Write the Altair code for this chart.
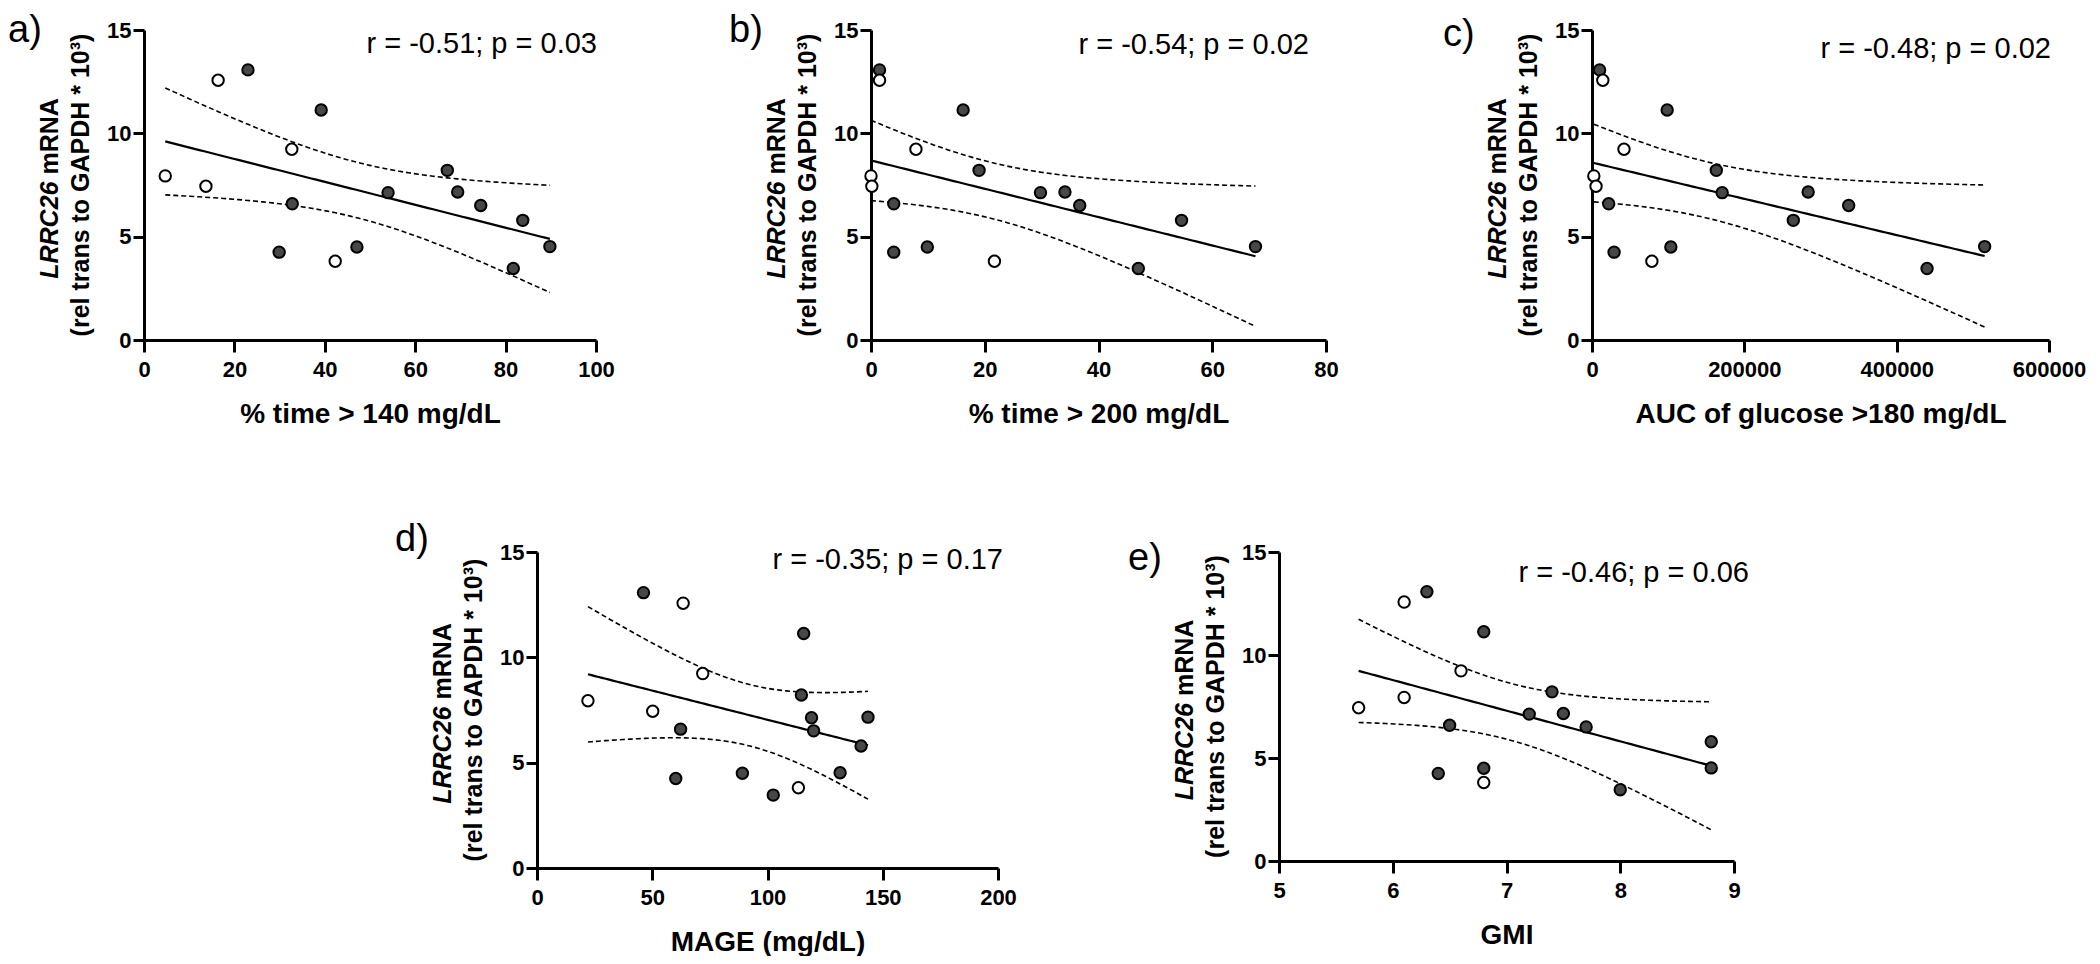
import altair as alt
import numpy as np
import pandas as pd

FONT = "Liberation Sans"

# 12 filled (dark) subjects first, then 5 open subjects
GROUP = ["filled"] * 12 + ["open"] * 5
LRRC26 = [13.07, 11.13, 8.21, 7.16, 7.13, 6.51, 6.59, 5.79, 4.52, 4.50, 4.25, 3.46,
          7.94, 7.44, 12.57, 9.23, 3.81]

TIME140 = [23.0, 39.2, 67.1, 69.4, 54.0, 74.5, 32.8, 83.8, 89.8, 47.1, 29.9, 81.7,
           4.7, 13.7, 16.4, 32.7, 42.3]
TIME200 = [1.5, 16.2, 19.0, 34.1, 29.8, 36.7, 4.0, 54.6, 67.6, 9.9, 4.0, 47.0,
           0.0, 0.15, 1.5, 7.9, 21.7]
AUC180 = [10000, 98700, 163200, 283800, 170900, 337000, 21900, 264300, 515500, 103500, 29000, 439900,
          2400, 5300, 14200, 42000, 78600]
MAGE = [46.2, 115.7, 114.7, 143.6, 119.1, 120.0, 62.3, 140.6, 131.5, 89.1, 60.2, 102.5,
        22.1, 50.2, 63.4, 71.9, 113.4]
GMI = [6.30, 6.80, 7.40, 7.50, 7.20, 7.70, 6.50, 8.80, 8.80, 6.80, 6.40, 8.00,
       6.10, 5.70, 6.10, 6.60, 6.80]

X_TITLES = ["% time > 140 mg/dL", "% time > 200 mg/dL", "AUC of glucose >180 mg/dL",
            "MAGE (mg/dL)", "GMI"]
R_TEXTS = ["r = -0.51; p = 0.03", "r = -0.54; p = 0.02", "r = -0.48; p = 0.02",
           "r = -0.35; p = 0.17", "r = -0.46; p = 0.06"]
LABELS = ["a)", "b)", "c)", "d)", "e)"]
X_DOMAINS = [[0, 100], [0, 80], [0, 600000], [0, 200], [5, 9]]
X_TICKS = [[0, 20, 40, 60, 80, 100], [0, 20, 40, 60, 80],
           [0, 200000, 400000, 600000], [0, 50, 100, 150, 200], [5, 6, 7, 8, 9]]
Y_TICKS = [0, 5, 10, 15]
Y_LINE1A = "LRRC26"
Y_LINE1B = "mRNA"
Y_LINE2 = "(rel trans to GAPDH * 10\u00b3)"

T975 = 2.131  # t(0.975, df=15)

AXIS = dict(grid=False, domainColor="black", domainWidth=3, tickColor="black", tickWidth=3,
            labelFont=FONT, labelFontWeight="bold", labelFontSize=22, labelColor="black",
            labelOverlap=False, labelFlush=False, labelBound=False)


def txt(t, x, y, **kw):
    return alt.Chart(pd.DataFrame({"t": [t]})).mark_text(**kw).encode(
        text="t:N", x=alt.value(x), y=alt.value(y))


def panel(xs, i, W, H, lab_xy, r_xy):
    x = np.asarray(xs, float)
    y = np.asarray(LRRC26, float)
    n = len(x)
    xm, ym = x.mean(), y.mean()
    sxx = ((x - xm) ** 2).sum()
    slope = ((x - xm) * (y - ym)).sum() / sxx
    icpt = ym - slope * xm
    s = np.sqrt(((y - icpt - slope * x) ** 2).sum() / (n - 2))
    xx = np.linspace(x.min(), x.max(), 80)
    fit = icpt + slope * xx
    hw = T975 * s * np.sqrt(1.0 / n + (xx - xm) ** 2 / sxx)
    fit_df = pd.DataFrame({"x": xx, "fit": fit, "lo": fit - hw, "hi": fit + hw})
    pts = pd.DataFrame({"x": x, "y": y, "g": GROUP})

    xsc = alt.Scale(domain=X_DOMAINS[i], nice=False, zero=False)
    ysc = alt.Scale(domain=[0, 15], nice=False)
    xax = alt.Axis(values=X_TICKS[i], format="d", title=X_TITLES[i], tickSize=12, labelPadding=7,
                   titleFont=FONT, titleFontWeight="bold", titleFontSize=28, titleColor="black",
                   titlePadding=20, **AXIS)
    yax = alt.Axis(values=Y_TICKS, format="d", title=None, tickSize=11, labelPadding=2, **AXIS)
    X = alt.X("x:Q", scale=xsc, axis=xax)

    def Y(f):
        return alt.Y(f + ":Q", scale=ysc, axis=yax)

    base = alt.Chart(fit_df)
    line = base.mark_line(color="black", strokeWidth=2.2).encode(x=X, y=Y("fit"))
    lo = base.mark_line(color="black", strokeWidth=1.6, strokeDash=[5, 3]).encode(x=X, y=Y("lo"))
    hi = base.mark_line(color="black", strokeWidth=1.6, strokeDash=[5, 3]).encode(x=X, y=Y("hi"))
    points = alt.Chart(pts).mark_circle(size=130, stroke="black", strokeWidth=2, opacity=1).encode(
        x=X, y=Y("y"),
        fill=alt.Fill("g:N", scale=alt.Scale(domain=["filled", "open"], range=["#474747", "#ffffff"]),
                      legend=None))

    fs = 25
    w1 = 3.889 * fs
    w2 = 3.333 * fs
    sp = 0.278 * fs
    start = H / 2 + (w1 + sp + w2) / 2
    split = start - w1
    yt1 = txt(Y_LINE1A, -86, split, angle=270, align="right", baseline="alphabetic", font=FONT,
              fontSize=fs, fontWeight="bold", fontStyle="italic", color="black")
    yt2 = txt(Y_LINE1B, -86, split - sp, angle=270, align="left", baseline="alphabetic", font=FONT,
              fontSize=fs, fontWeight="bold", color="black")
    yt3 = txt(Y_LINE2, -55, H / 2, angle=270, align="center", baseline="alphabetic", font=FONT,
              fontSize=fs, fontWeight="bold", color="black")
    lab = txt(LABELS[i], lab_xy[0], lab_xy[1], align="left", baseline="alphabetic", font=FONT,
              fontSize=38, color="black")
    rt = txt(R_TEXTS[i], W + r_xy[0], r_xy[1], align="right", baseline="alphabetic", font=FONT,
             fontSize=29, color="black")
    return alt.layer(lo, hi, line, points, yt1, yt2, yt3, lab, rt).properties(width=W, height=H)


def spacer(W, H):
    return alt.Chart(pd.DataFrame({"v": [0]})).mark_point(opacity=0).encode(
        x=alt.X("v:Q", axis=None), y=alt.Y("v:Q", axis=None)).properties(width=W, height=H)


pa = panel(TIME140, 0, 452, 310, (-136, 12), (1, 23))
pb = panel(TIME200, 1, 455, 310, (-142, 12), (-17, 24))
pc = panel(AUC180, 2, 457, 310, (-149, 16), (2, 28))
pd_ = panel(MAGE, 3, 461, 316, (-142, -1), (5, 17))
pe = panel(GMI, 4, 455, 309, (-151, 18), (15, 30))

top = alt.hconcat(pa, spacer(275, 310), pb, spacer(266, 310), pc, spacing=0, bounds="flush")
bottom = alt.hconcat(spacer(393, 316), pd_, spacer(281, 316), pe, spacing=0, bounds="flush")

# nested rows are laid out flush (zero extent), so the row spacing is the full
# offset from the top row's plot top to the bottom row's plot top
chart = alt.vconcat(top, bottom, spacing=522, bounds="flush").properties(
    padding={"top": 4, "left": 0, "right": 0, "bottom": 0}, background="white"
).configure_view(stroke=None)

chart.save("out.html", embed_options={"renderer": "svg", "actions": False})
